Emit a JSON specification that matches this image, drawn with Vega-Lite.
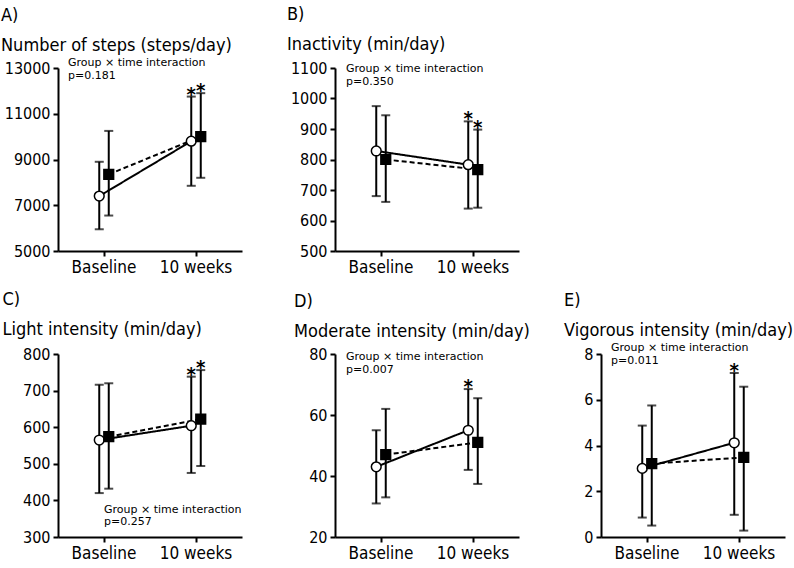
{
  "$schema": "https://vega.github.io/schema/vega-lite/v6.json",
  "padding": {"left": 1, "top": 6, "right": 5, "bottom": 2},
  "datasets": {
    "stats": [
      {"panel": "A", "time": "Baseline", "group": "Group 1", "mean": 7400, "lo": 5950, "hi": 8900, "star": false},
      {"panel": "A", "time": "Baseline", "group": "Group 2", "mean": 8350, "lo": 6550, "hi": 10250, "star": false},
      {"panel": "A", "time": "10 weeks", "group": "Group 1", "mean": 9800, "lo": 7850, "hi": 11750, "star": true},
      {"panel": "A", "time": "10 weeks", "group": "Group 2", "mean": 10000, "lo": 8200, "hi": 11900, "star": true},
      {"panel": "B", "time": "Baseline", "group": "Group 1", "mean": 828, "lo": 680, "hi": 975, "star": false},
      {"panel": "B", "time": "Baseline", "group": "Group 2", "mean": 800, "lo": 661, "hi": 945, "star": false},
      {"panel": "B", "time": "10 weeks", "group": "Group 1", "mean": 783, "lo": 639, "hi": 925, "star": true},
      {"panel": "B", "time": "10 weeks", "group": "Group 2", "mean": 767, "lo": 642, "hi": 898, "star": true},
      {"panel": "C", "time": "Baseline", "group": "Group 1", "mean": 565, "lo": 420, "hi": 716, "star": false},
      {"panel": "C", "time": "Baseline", "group": "Group 2", "mean": 574, "lo": 432, "hi": 720, "star": false},
      {"panel": "C", "time": "10 weeks", "group": "Group 1", "mean": 604, "lo": 475, "hi": 738, "star": true},
      {"panel": "C", "time": "10 weeks", "group": "Group 2", "mean": 622, "lo": 494, "hi": 756, "star": true},
      {"panel": "D", "time": "Baseline", "group": "Group 1", "mean": 43, "lo": 31, "hi": 55, "star": false},
      {"panel": "D", "time": "Baseline", "group": "Group 2", "mean": 47, "lo": 33, "hi": 62, "star": false},
      {"panel": "D", "time": "10 weeks", "group": "Group 1", "mean": 55, "lo": 42, "hi": 68.5, "star": true},
      {"panel": "D", "time": "10 weeks", "group": "Group 2", "mean": 51, "lo": 37.4, "hi": 65.5, "star": false},
      {"panel": "E", "time": "Baseline", "group": "Group 1", "mean": 3.0, "lo": 0.85, "hi": 4.87, "star": false},
      {"panel": "E", "time": "Baseline", "group": "Group 2", "mean": 3.21, "lo": 0.5, "hi": 5.75, "star": false},
      {"panel": "E", "time": "10 weeks", "group": "Group 1", "mean": 4.12, "lo": 0.97, "hi": 7.17, "star": true},
      {"panel": "E", "time": "10 weeks", "group": "Group 2", "mean": 3.48, "lo": 0.28, "hi": 6.57, "star": false}
    ],
    "notes": [
      {"panel": "A", "text": "Group × time interaction\np=0.181"},
      {"panel": "B", "text": "Group × time interaction\np=0.350"},
      {"panel": "C", "text": "Group × time interaction\np=0.257"},
      {"panel": "D", "text": "Group × time interaction\np=0.007"},
      {"panel": "E", "text": "Group × time interaction\np=0.011"}
    ]
  },
  "config": {
    "font": "DejaVu Sans Condensed, DejaVu Sans",
    "view": {"stroke": null},
    "axis": {"domainColor": "black", "domainWidth": 2, "tickColor": "black", "tickWidth": 2, "tickSize": 5, "labelColor": "black", "labelFont": "DejaVu Sans Condensed, DejaVu Sans", "labelFontSize": 16, "grid": false, "title": null, "labelPadding": 3},
    "axisX": {"labelFontSize": 17, "labelAngle": 0, "labelPadding": 3},
    "axisY": {"tickCount": 20, "labelOverlap": false},
    "title": {"anchor": "start", "frame": "group", "font": "DejaVu Sans Condensed, DejaVu Sans", "fontSize": 18, "fontWeight": "normal", "color": "black", "subtitleFont": "DejaVu Sans Condensed, DejaVu Sans", "subtitleFontSize": 18, "subtitleColor": "black", "subtitlePadding": 12, "offset": 2}
  },
  "vconcat": [
    {
      "hconcat": [
        {
          "width": 184, "height": 183,
          "data": {"name": "stats"},
          "transform": [{"filter": "datum.panel === 'A'"}],
          "title": {"text": "A)", "subtitle": "Number of steps (steps/day)", "dx": -57, "offset": 2},
          "layer": [
            {"mark": {"type": "rule", "strokeWidth": 2, "color": "black"},
             "encoding": {
               "x": {"field": "time", "type": "nominal", "sort": ["Baseline", "10 weeks"], "scale": {"type": "band", "paddingInner": 0, "paddingOuter": 0}},
               "xOffset": {"field": "group", "type": "nominal", "scale": {"range": [36.5, 55.5], "paddingInner": 0, "paddingOuter": 0}},
               "y": {"field": "lo", "type": "quantitative", "scale": {"domain": [5000, 13000], "nice": false, "zero": false}, "axis": {"values": [5000, 7000, 9000, 11000, 13000], "format": "d", "tickCount": 20}},
               "y2": {"field": "hi"}}},
            {"mark": {"type": "tick", "orient": "horizontal", "size": 9, "thickness": 2, "color": "black"},
             "encoding": {"x": {"field": "time", "type": "nominal", "sort": ["Baseline", "10 weeks"]}, "xOffset": {"field": "group", "type": "nominal"}, "y": {"field": "lo", "type": "quantitative"}}},
            {"mark": {"type": "tick", "orient": "horizontal", "size": 9, "thickness": 2, "color": "black"},
             "encoding": {"x": {"field": "time", "type": "nominal", "sort": ["Baseline", "10 weeks"]}, "xOffset": {"field": "group", "type": "nominal"}, "y": {"field": "hi", "type": "quantitative"}}},
            {"mark": {"type": "line", "strokeWidth": 2, "color": "black"},
             "encoding": {"x": {"field": "time", "type": "nominal", "sort": ["Baseline", "10 weeks"]}, "xOffset": {"field": "group", "type": "nominal"}, "y": {"field": "mean", "type": "quantitative"}, "strokeDash": {"field": "group", "type": "nominal", "scale": {"domain": ["Group 1", "Group 2"], "range": [[1, 0], [5, 3]]}, "legend": null}}},
            {"mark": {"type": "point", "filled": true, "stroke": "black", "strokeWidth": 1.5, "size": 95, "opacity": 1},
             "encoding": {"x": {"field": "time", "type": "nominal", "sort": ["Baseline", "10 weeks"]}, "xOffset": {"field": "group", "type": "nominal"}, "y": {"field": "mean", "type": "quantitative"}, "shape": {"field": "group", "type": "nominal", "scale": {"domain": ["Group 1", "Group 2"], "range": ["circle", "square"]}, "legend": null}, "fill": {"field": "group", "type": "nominal", "scale": {"domain": ["Group 1", "Group 2"], "range": ["white", "black"]}, "legend": null}}},
            {"transform": [{"filter": "datum.star"}],
             "mark": {"type": "text", "text": "*", "fontSize": 20, "fontWeight": "bold", "baseline": "alphabetic", "dy": 4, "color": "black"},
             "encoding": {"x": {"field": "time", "type": "nominal", "sort": ["Baseline", "10 weeks"]}, "xOffset": {"field": "group", "type": "nominal"}, "y": {"field": "hi", "type": "quantitative"}}},
            {"data": {"name": "notes"}, "transform": [{"filter": "datum.panel === 'A'"}],
             "mark": {"type": "text", "align": "left", "baseline": "top", "font": "DejaVu Sans", "fontSize": 11, "lineHeight": 12.5, "lineBreak": "\n", "dx": 10, "dy": -11, "color": "black"},
             "encoding": {"x": {"datum": "Baseline", "bandPosition": 0}, "y": {"datum": 13000}, "text": {"field": "text", "type": "nominal"}}}
          ]
        },
        {
          "width": 184, "height": 183,
          "data": {"name": "stats"},
          "transform": [{"filter": "datum.panel === 'B'"}],
          "title": {"text": "B)", "subtitle": "Inactivity (min/day)", "dx": -48, "offset": 6},
          "layer": [
            {"mark": {"type": "rule", "strokeWidth": 2, "color": "black"},
             "encoding": {
               "x": {"field": "time", "type": "nominal", "sort": ["Baseline", "10 weeks"], "scale": {"type": "band", "paddingInner": 0, "paddingOuter": 0}},
               "xOffset": {"field": "group", "type": "nominal", "scale": {"range": [36.5, 55.5], "paddingInner": 0, "paddingOuter": 0}},
               "y": {"field": "lo", "type": "quantitative", "scale": {"domain": [500, 1100], "nice": false, "zero": false}, "axis": {"values": [500, 600, 700, 800, 900, 1000, 1100], "format": "d", "tickCount": 20}},
               "y2": {"field": "hi"}}},
            {"mark": {"type": "tick", "orient": "horizontal", "size": 9, "thickness": 2, "color": "black"},
             "encoding": {"x": {"field": "time", "type": "nominal", "sort": ["Baseline", "10 weeks"]}, "xOffset": {"field": "group", "type": "nominal"}, "y": {"field": "lo", "type": "quantitative"}}},
            {"mark": {"type": "tick", "orient": "horizontal", "size": 9, "thickness": 2, "color": "black"},
             "encoding": {"x": {"field": "time", "type": "nominal", "sort": ["Baseline", "10 weeks"]}, "xOffset": {"field": "group", "type": "nominal"}, "y": {"field": "hi", "type": "quantitative"}}},
            {"mark": {"type": "line", "strokeWidth": 2, "color": "black"},
             "encoding": {"x": {"field": "time", "type": "nominal", "sort": ["Baseline", "10 weeks"]}, "xOffset": {"field": "group", "type": "nominal"}, "y": {"field": "mean", "type": "quantitative"}, "strokeDash": {"field": "group", "type": "nominal", "scale": {"domain": ["Group 1", "Group 2"], "range": [[1, 0], [5, 3]]}, "legend": null}}},
            {"mark": {"type": "point", "filled": true, "stroke": "black", "strokeWidth": 1.5, "size": 95, "opacity": 1},
             "encoding": {"x": {"field": "time", "type": "nominal", "sort": ["Baseline", "10 weeks"]}, "xOffset": {"field": "group", "type": "nominal"}, "y": {"field": "mean", "type": "quantitative"}, "shape": {"field": "group", "type": "nominal", "scale": {"domain": ["Group 1", "Group 2"], "range": ["circle", "square"]}, "legend": null}, "fill": {"field": "group", "type": "nominal", "scale": {"domain": ["Group 1", "Group 2"], "range": ["white", "black"]}, "legend": null}}},
            {"transform": [{"filter": "datum.star"}],
             "mark": {"type": "text", "text": "*", "fontSize": 20, "fontWeight": "bold", "baseline": "alphabetic", "dy": 4, "color": "black"},
             "encoding": {"x": {"field": "time", "type": "nominal", "sort": ["Baseline", "10 weeks"]}, "xOffset": {"field": "group", "type": "nominal"}, "y": {"field": "hi", "type": "quantitative"}}},
            {"data": {"name": "notes"}, "transform": [{"filter": "datum.panel === 'B'"}],
             "mark": {"type": "text", "align": "left", "baseline": "top", "font": "DejaVu Sans", "fontSize": 11, "lineHeight": 12.5, "lineBreak": "\n", "dx": 11, "dy": -5, "color": "black"},
             "encoding": {"x": {"datum": "Baseline", "bandPosition": 0}, "y": {"datum": 1100}, "text": {"field": "text", "type": "nominal"}}}
          ]
        }
      ],
      "spacing": 93,
      "bounds": "flush"
    },
    {
      "hconcat": [
        {
          "width": 184, "height": 183,
          "data": {"name": "stats"},
          "transform": [{"filter": "datum.panel === 'C'"}],
          "title": {"text": "C)", "subtitle": "Light intensity (min/day)", "dx": -55.5, "offset": 7},
          "layer": [
            {"mark": {"type": "rule", "strokeWidth": 2, "color": "black"},
             "encoding": {
               "x": {"field": "time", "type": "nominal", "sort": ["Baseline", "10 weeks"], "scale": {"type": "band", "paddingInner": 0, "paddingOuter": 0}},
               "xOffset": {"field": "group", "type": "nominal", "scale": {"range": [36.5, 55.5], "paddingInner": 0, "paddingOuter": 0}},
               "y": {"field": "lo", "type": "quantitative", "scale": {"domain": [300, 800], "nice": false, "zero": false}, "axis": {"values": [300, 400, 500, 600, 700, 800], "format": "d", "tickCount": 20}},
               "y2": {"field": "hi"}}},
            {"mark": {"type": "tick", "orient": "horizontal", "size": 9, "thickness": 2, "color": "black"},
             "encoding": {"x": {"field": "time", "type": "nominal", "sort": ["Baseline", "10 weeks"]}, "xOffset": {"field": "group", "type": "nominal"}, "y": {"field": "lo", "type": "quantitative"}}},
            {"mark": {"type": "tick", "orient": "horizontal", "size": 9, "thickness": 2, "color": "black"},
             "encoding": {"x": {"field": "time", "type": "nominal", "sort": ["Baseline", "10 weeks"]}, "xOffset": {"field": "group", "type": "nominal"}, "y": {"field": "hi", "type": "quantitative"}}},
            {"mark": {"type": "line", "strokeWidth": 2, "color": "black"},
             "encoding": {"x": {"field": "time", "type": "nominal", "sort": ["Baseline", "10 weeks"]}, "xOffset": {"field": "group", "type": "nominal"}, "y": {"field": "mean", "type": "quantitative"}, "strokeDash": {"field": "group", "type": "nominal", "scale": {"domain": ["Group 1", "Group 2"], "range": [[1, 0], [5, 3]]}, "legend": null}}},
            {"mark": {"type": "point", "filled": true, "stroke": "black", "strokeWidth": 1.5, "size": 95, "opacity": 1},
             "encoding": {"x": {"field": "time", "type": "nominal", "sort": ["Baseline", "10 weeks"]}, "xOffset": {"field": "group", "type": "nominal"}, "y": {"field": "mean", "type": "quantitative"}, "shape": {"field": "group", "type": "nominal", "scale": {"domain": ["Group 1", "Group 2"], "range": ["circle", "square"]}, "legend": null}, "fill": {"field": "group", "type": "nominal", "scale": {"domain": ["Group 1", "Group 2"], "range": ["white", "black"]}, "legend": null}}},
            {"transform": [{"filter": "datum.star"}],
             "mark": {"type": "text", "text": "*", "fontSize": 20, "fontWeight": "bold", "baseline": "alphabetic", "dy": 4, "color": "black"},
             "encoding": {"x": {"field": "time", "type": "nominal", "sort": ["Baseline", "10 weeks"]}, "xOffset": {"field": "group", "type": "nominal"}, "y": {"field": "hi", "type": "quantitative"}}},
            {"data": {"name": "notes"}, "transform": [{"filter": "datum.panel === 'C'"}],
             "mark": {"type": "text", "align": "left", "baseline": "top", "font": "DejaVu Sans", "fontSize": 11, "lineHeight": 12.5, "lineBreak": "\n", "dx": 0, "dy": -4, "color": "black"},
             "encoding": {"x": {"datum": "Baseline", "bandPosition": 0.5}, "y": {"datum": 380}, "text": {"field": "text", "type": "nominal"}}}
          ]
        },
        {
          "hconcat": [
            {
              "width": 184, "height": 183,
              "data": {"name": "stats"},
              "transform": [{"filter": "datum.panel === 'D'"}],
              "title": {"text": "D)", "subtitle": "Moderate intensity (min/day)", "dx": -41, "offset": 5},
              "layer": [
                {"mark": {"type": "rule", "strokeWidth": 2, "color": "black"},
                 "encoding": {
                   "x": {"field": "time", "type": "nominal", "sort": ["Baseline", "10 weeks"], "scale": {"type": "band", "paddingInner": 0, "paddingOuter": 0}},
                   "xOffset": {"field": "group", "type": "nominal", "scale": {"range": [36.5, 55.5], "paddingInner": 0, "paddingOuter": 0}},
                   "y": {"field": "lo", "type": "quantitative", "scale": {"domain": [20, 80], "nice": false, "zero": false}, "axis": {"values": [20, 40, 60, 80], "format": "d", "tickCount": 20}},
                   "y2": {"field": "hi"}}},
                {"mark": {"type": "tick", "orient": "horizontal", "size": 9, "thickness": 2, "color": "black"},
                 "encoding": {"x": {"field": "time", "type": "nominal", "sort": ["Baseline", "10 weeks"]}, "xOffset": {"field": "group", "type": "nominal"}, "y": {"field": "lo", "type": "quantitative"}}},
                {"mark": {"type": "tick", "orient": "horizontal", "size": 9, "thickness": 2, "color": "black"},
                 "encoding": {"x": {"field": "time", "type": "nominal", "sort": ["Baseline", "10 weeks"]}, "xOffset": {"field": "group", "type": "nominal"}, "y": {"field": "hi", "type": "quantitative"}}},
                {"mark": {"type": "line", "strokeWidth": 2, "color": "black"},
                 "encoding": {"x": {"field": "time", "type": "nominal", "sort": ["Baseline", "10 weeks"]}, "xOffset": {"field": "group", "type": "nominal"}, "y": {"field": "mean", "type": "quantitative"}, "strokeDash": {"field": "group", "type": "nominal", "scale": {"domain": ["Group 1", "Group 2"], "range": [[1, 0], [5, 3]]}, "legend": null}}},
                {"mark": {"type": "point", "filled": true, "stroke": "black", "strokeWidth": 1.5, "size": 95, "opacity": 1},
                 "encoding": {"x": {"field": "time", "type": "nominal", "sort": ["Baseline", "10 weeks"]}, "xOffset": {"field": "group", "type": "nominal"}, "y": {"field": "mean", "type": "quantitative"}, "shape": {"field": "group", "type": "nominal", "scale": {"domain": ["Group 1", "Group 2"], "range": ["circle", "square"]}, "legend": null}, "fill": {"field": "group", "type": "nominal", "scale": {"domain": ["Group 1", "Group 2"], "range": ["white", "black"]}, "legend": null}}},
                {"transform": [{"filter": "datum.star"}],
                 "mark": {"type": "text", "text": "*", "fontSize": 20, "fontWeight": "bold", "baseline": "alphabetic", "dy": 4, "color": "black"},
                 "encoding": {"x": {"field": "time", "type": "nominal", "sort": ["Baseline", "10 weeks"]}, "xOffset": {"field": "group", "type": "nominal"}, "y": {"field": "hi", "type": "quantitative"}}},
                {"data": {"name": "notes"}, "transform": [{"filter": "datum.panel === 'D'"}],
                 "mark": {"type": "text", "align": "left", "baseline": "top", "font": "DejaVu Sans", "fontSize": 11, "lineHeight": 12.5, "lineBreak": "\n", "dx": 11, "dy": -3, "color": "black"},
                 "encoding": {"x": {"datum": "Baseline", "bandPosition": 0}, "y": {"datum": 80}, "text": {"field": "text", "type": "nominal"}}}
              ]
            },
            {
              "width": 184, "height": 183,
              "data": {"name": "stats"},
              "transform": [{"filter": "datum.panel === 'E'"}],
              "title": {"text": "E)", "subtitle": "Vigorous intensity (min/day)", "dx": -37, "offset": 2},
              "layer": [
                {"mark": {"type": "rule", "strokeWidth": 2, "color": "black"},
                 "encoding": {
                   "x": {"field": "time", "type": "nominal", "sort": ["Baseline", "10 weeks"], "scale": {"type": "band", "paddingInner": 0, "paddingOuter": 0}},
                   "xOffset": {"field": "group", "type": "nominal", "scale": {"range": [36.5, 55.5], "paddingInner": 0, "paddingOuter": 0}},
                   "y": {"field": "lo", "type": "quantitative", "scale": {"domain": [0, 8], "nice": false, "zero": false}, "axis": {"values": [0, 2, 4, 6, 8], "format": "d", "tickCount": 20}},
                   "y2": {"field": "hi"}}},
                {"mark": {"type": "tick", "orient": "horizontal", "size": 9, "thickness": 2, "color": "black"},
                 "encoding": {"x": {"field": "time", "type": "nominal", "sort": ["Baseline", "10 weeks"]}, "xOffset": {"field": "group", "type": "nominal"}, "y": {"field": "lo", "type": "quantitative"}}},
                {"mark": {"type": "tick", "orient": "horizontal", "size": 9, "thickness": 2, "color": "black"},
                 "encoding": {"x": {"field": "time", "type": "nominal", "sort": ["Baseline", "10 weeks"]}, "xOffset": {"field": "group", "type": "nominal"}, "y": {"field": "hi", "type": "quantitative"}}},
                {"mark": {"type": "line", "strokeWidth": 2, "color": "black"},
                 "encoding": {"x": {"field": "time", "type": "nominal", "sort": ["Baseline", "10 weeks"]}, "xOffset": {"field": "group", "type": "nominal"}, "y": {"field": "mean", "type": "quantitative"}, "strokeDash": {"field": "group", "type": "nominal", "scale": {"domain": ["Group 1", "Group 2"], "range": [[1, 0], [5, 3]]}, "legend": null}}},
                {"mark": {"type": "point", "filled": true, "stroke": "black", "strokeWidth": 1.5, "size": 95, "opacity": 1},
                 "encoding": {"x": {"field": "time", "type": "nominal", "sort": ["Baseline", "10 weeks"]}, "xOffset": {"field": "group", "type": "nominal"}, "y": {"field": "mean", "type": "quantitative"}, "shape": {"field": "group", "type": "nominal", "scale": {"domain": ["Group 1", "Group 2"], "range": ["circle", "square"]}, "legend": null}, "fill": {"field": "group", "type": "nominal", "scale": {"domain": ["Group 1", "Group 2"], "range": ["white", "black"]}, "legend": null}}},
                {"transform": [{"filter": "datum.star"}],
                 "mark": {"type": "text", "text": "*", "fontSize": 20, "fontWeight": "bold", "baseline": "alphabetic", "dy": 4, "color": "black"},
                 "encoding": {"x": {"field": "time", "type": "nominal", "sort": ["Baseline", "10 weeks"]}, "xOffset": {"field": "group", "type": "nominal"}, "y": {"field": "hi", "type": "quantitative"}}},
                {"data": {"name": "notes"}, "transform": [{"filter": "datum.panel === 'E'"}],
                 "mark": {"type": "text", "align": "left", "baseline": "top", "font": "DejaVu Sans", "fontSize": 11, "lineHeight": 12.5, "lineBreak": "\n", "dx": 10, "dy": -12, "color": "black"},
                 "encoding": {"x": {"datum": "Baseline", "bandPosition": 0}, "y": {"datum": 8}, "text": {"field": "text", "type": "nominal"}}}
              ]
            }
          ],
          "spacing": 82,
          "bounds": "flush"
        }
      ],
      "spacing": 93,
      "bounds": "flush"
    }
  ],
  "spacing": 16,
  "bounds": "full"
}
